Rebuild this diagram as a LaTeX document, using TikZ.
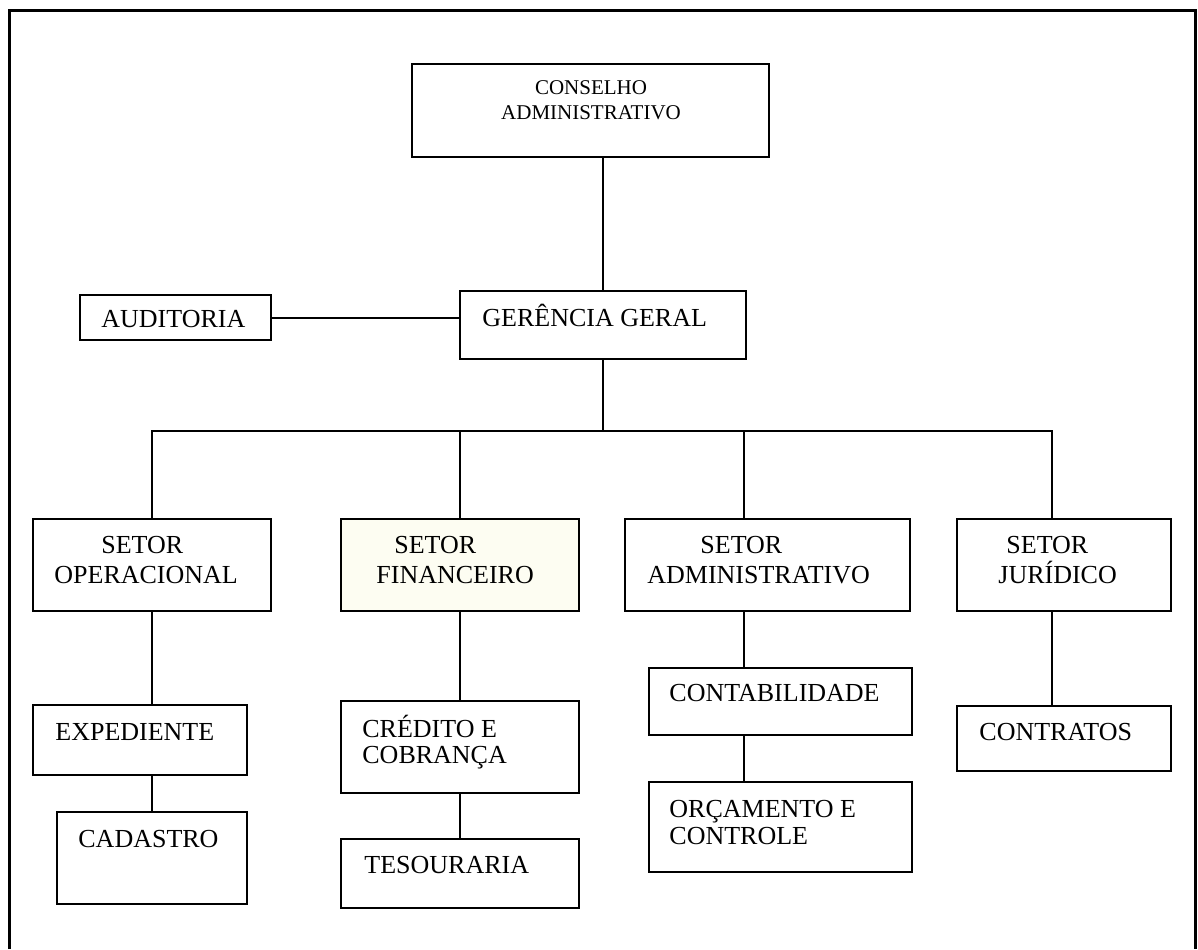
\documentclass[tikz,border=0pt]{standalone}
\usepackage{fontspec}
\setmainfont{Liberation Serif}
\usetikzlibrary{calc,fit}
\definecolor{paleyellow}{RGB}{253,253,242}
\begin{document}
\begin{tikzpicture}[x=0.5pt,y=-0.5pt,
  box/.style={draw=black, line width=1pt, inner sep=0pt},
  link/.style={draw=black, line width=1pt},
  frame/.style={draw=black, line width=1.5pt},
  txt/.style={inner sep=0pt, anchor=base west, align=left,
              font=\fontsize{13}{15}\selectfont},
]
\useasboundingbox (0,0) rectangle (1198,949);

% outer frame, open at the bottom
\draw[frame] (9.5,949) -- (9.5,10.5) -- (1195,10.5) -- (1195,949);

% boxes
\node[box, fit={(412,64) (769,157)}]  (cons) {};
\node[box, fit={(460,291) (746,359)}] (ger)  {};
\node[box, fit={(80,295) (271,340)}]  (aud)  {};
\node[box, fit={(33,519) (271,611)}]  (opr)  {};
\node[box, fill=paleyellow, fit={(341,519) (579,611)}] (fin) {};
\node[box, fit={(625,519) (910,611)}] (adm)  {};
\node[box, fit={(957,519) (1171,611)}] (jur) {};
\node[box, fit={(33,705) (247,775)}]  (exp)  {};
\node[box, fit={(57,812) (247,904)}]  (cad)  {};
\node[box, fit={(341,701) (579,793)}] (cred) {};
\node[box, fit={(341,839) (579,908)}] (tes)  {};
\node[box, fit={(649,668) (912,735)}] (cont) {};
\node[box, fit={(649,782) (912,872)}] (orc)  {};
\node[box, fit={(957,706) (1171,771)}] (ctr) {};

% labels (multi-line labels are placed by the baseline of their last line)
\node[txt, anchor=base, align=center, font=\fontsize{10.5}{12.5}\selectfont]
  (tcons) at (591,119) {CONSELHO\\ADMINISTRATIVO};
\node[txt] (tger) at (482,326) {GERÊNCIA GERAL};
\node[txt] (taud) at (101,327) {AUDITORIA};
\node[txt] (topr) at (54,583)  {\hspace*{23.5pt}SETOR\\OPERACIONAL};
\node[txt] (tfin) at (376,583) {\hspace*{9pt}SETOR\\FINANCEIRO};
\node[txt] (tadm) at (647,583) {\hspace*{26.5pt}SETOR\\ADMINISTRATIVO};
\node[txt] (tjur) at (998,583) {\hspace*{4pt}SETOR\\JURÍDICO};
\node[txt] (texp) at (55,740)  {EXPEDIENTE};
\node[txt] (tcad) at (78,847)  {CADASTRO};
\node[txt, font=\fontsize{13}{13}\selectfont] (tcred) at (362,763) {CRÉDITO E\\COBRANÇA};
\node[txt] (ttes) at (364,873) {TESOURARIA};
\node[txt] (tcont) at (669,701) {CONTABILIDADE};
\node[txt, font=\fontsize{13}{13.5}\selectfont] (torc) at (669,844) {ORÇAMENTO E\\CONTROLE};
\node[txt] (tctr) at (979,740) {CONTRATOS};

% connectors
\coordinate (bar) at (603,431);
\coordinate (admdrop) at ($(adm.north west)+(120,0)$);
\coordinate (jurdrop) at ($(jur.north west)+(96,0)$);

\draw[link] (ger.north) -- (ger.north |- cons.south);
\draw[link] (aud.east) -- (aud.east -| ger.west);
\draw[link] (ger.south) -- (bar);
\draw[link] (opr.north) |- (bar) -| (admdrop);
\draw[link] (fin.north) -- (fin.north |- bar);
\draw[link] (bar) -| (jurdrop);

\draw[link] (opr.south) -- (opr.south |- exp.north);
\draw[link] (exp.south -| opr.south) -- (opr.south |- cad.north);
\draw[link] (fin.south) -- (cred.north);
\draw[link] (cred.south) -- (tes.north);
\draw[link] (adm.south -| admdrop) -- (admdrop |- cont.north);
\draw[link] (cont.south -| admdrop) -- (admdrop |- orc.north);
\draw[link] (jur.south -| jurdrop) -- (jurdrop |- ctr.north);
\end{tikzpicture}
\end{document}
